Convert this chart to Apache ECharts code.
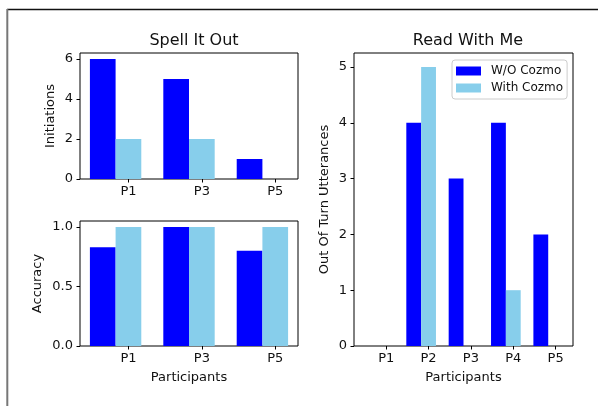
<!DOCTYPE html>
<html><head><meta charset="utf-8">
<script src="https://cdn.jsdelivr.net/npm/echarts@6/dist/echarts.min.js"></script>
<style>html,body{margin:0;padding:0;background:#fff}#c{width:598px;height:406px}</style>
</head><body><div id="c"></div>
<script>
const spellCats = ['P1', 'P3', 'P5'];
const spellInitWithout = [6, 5, 1];
const spellInitWith = [2, 2, 0];
const spellAccWithout = [0.83, 1.0, 0.8];
const spellAccWith = [1.0, 1.0, 1.0];
const readCats = ['P1', 'P2', 'P3', 'P4', 'P5'];
const readWithout = [0, 4, 3, 4, 2];
const readWith = [0, 5, 0, 1, 0];
const initTicks = [0, 2, 4, 6];
const accTicks = [0, 0.5, 1.0];
const readTicks = [0, 1, 2, 3, 4, 5];

const FONT = 'DejaVu Sans';
const TXT = '#111';
const BLUE = '#0000ff', SKY = '#87ceeb';
const W = 0.35;

const grids = [
  {left: 80, top: 53, width: 218, height: 126},
  {left: 80, top: 221, width: 218, height: 125},
  {left: 354, top: 53, width: 219, height: 293}
];
const xr = [[-0.66, 2.31], [-0.66, 2.31], [-0.76, 4.41]];

function xAxis(i, cats, name) {
  return {
    type: 'value', gridIndex: i, min: xr[i][0], max: xr[i][1],
    splitLine: {show: false}, axisLine: {show: false, onZero: false},
    axisTick: {show: true, customValues: cats.map((c, k) => k), length: 3.5, lineStyle: {color: '#000'}},
    axisLabel: {show: true, customValues: cats.map((c, k) => k), formatter: v => cats[Math.round(v)],
      fontFamily: FONT, fontSize: 13, color: TXT, margin: 6},
    name: name || '', nameLocation: 'middle', nameGap: 25,
    nameTextStyle: {fontFamily: FONT, fontSize: 13, color: TXT}
  };
}
function yAxis(i, min, max, ticks, name, gap, fmt) {
  return {
    type: 'value', gridIndex: i, min: min, max: max, position: 'left',
    splitLine: {show: false}, axisLine: {show: false, onZero: false},
    axisTick: {show: true, customValues: ticks, length: 3.5, lineStyle: {color: '#000'}},
    axisLabel: {show: true, customValues: ticks, formatter: fmt || (v => String(v)),
      fontFamily: FONT, fontSize: 13, color: TXT, margin: 7},
    name: name, nameLocation: 'middle', nameGap: gap, nameRotate: 90,
    nameTextStyle: {fontFamily: FONT, fontSize: 13, color: TXT}
  };
}
function pxPerUnit(i) { return grids[i].width / (xr[i][1] - xr[i][0]); }
function pairSeries(i, without, withv) {
  const bw = W * pxPerUnit(i);
  return [
    {type: 'bar', name: 'W/O Cozmo', xAxisIndex: i, yAxisIndex: i, barWidth: bw, barGap: '-100%',
      itemStyle: {color: BLUE}, data: without.map((v, k) => [k - W, v]), animation: false},
    {type: 'bar', name: 'With Cozmo', xAxisIndex: i, yAxisIndex: i, barWidth: bw, barGap: '-100%',
      itemStyle: {color: SKY}, data: withv.map((v, k) => [k, v]), animation: false}
  ];
}

const chart = echarts.init(document.getElementById('c'), null, {renderer: 'canvas'});
chart.setOption({
  animation: false,
  backgroundColor: '#fff',
  title: [
    {text: 'Spell It Out', left: 189, top: 28, textAlign: 'center',
      textStyle: {fontFamily: FONT, fontSize: 16, fontWeight: 'normal', color: TXT}},
    {text: 'Read With Me', left: 463, top: 28, textAlign: 'center',
      textStyle: {fontFamily: FONT, fontSize: 16, fontWeight: 'normal', color: TXT}}
  ],
  legend: {
    orient: 'vertical', left: 452, top: 60, padding: [5, 4, 5, 4],
    itemWidth: 25, itemHeight: 9, itemGap: 5, icon: 'rect',
    data: ['W/O Cozmo', 'With Cozmo'],
    backgroundColor: 'rgba(255,255,255,0.8)', borderColor: '#ccc', borderWidth: 1, borderRadius: 3,
    textStyle: {fontFamily: FONT, fontSize: 12, color: TXT, padding: [0, 0, 0, 5]}, selectedMode: false
  },
  grid: grids.map(g => Object.assign({show: true, borderColor: '#000', borderWidth: 1,
    backgroundColor: 'transparent', containLabel: false}, g)),
  xAxis: [xAxis(0, spellCats), xAxis(1, spellCats, 'Participants'), xAxis(2, readCats, 'Participants')],
  yAxis: [
    yAxis(0, 0, 6.3, initTicks, 'Initiations', 23),
    yAxis(1, 0, 1.05, accTicks, 'Accuracy', 36, v => v.toFixed(1)),
    yAxis(2, 0, 5.25, readTicks, 'Out Of Turn Utterances', 23)
  ],
  series: [].concat(pairSeries(0, spellInitWithout, spellInitWith),
    pairSeries(1, spellAccWithout, spellAccWith),
    pairSeries(2, readWithout, readWith)),
  graphic: [
    {type: 'line', shape: {x1: 7, y1: 9.5, x2: 598, y2: 9.5}, style: {stroke: '#111', lineWidth: 1.3}, z: 100},
    {type: 'line', shape: {x1: 7.3, y1: 9, x2: 7.3, y2: 406}, style: {stroke: '#777', lineWidth: 2}, z: 100}
  ]
});
</script></body></html>
